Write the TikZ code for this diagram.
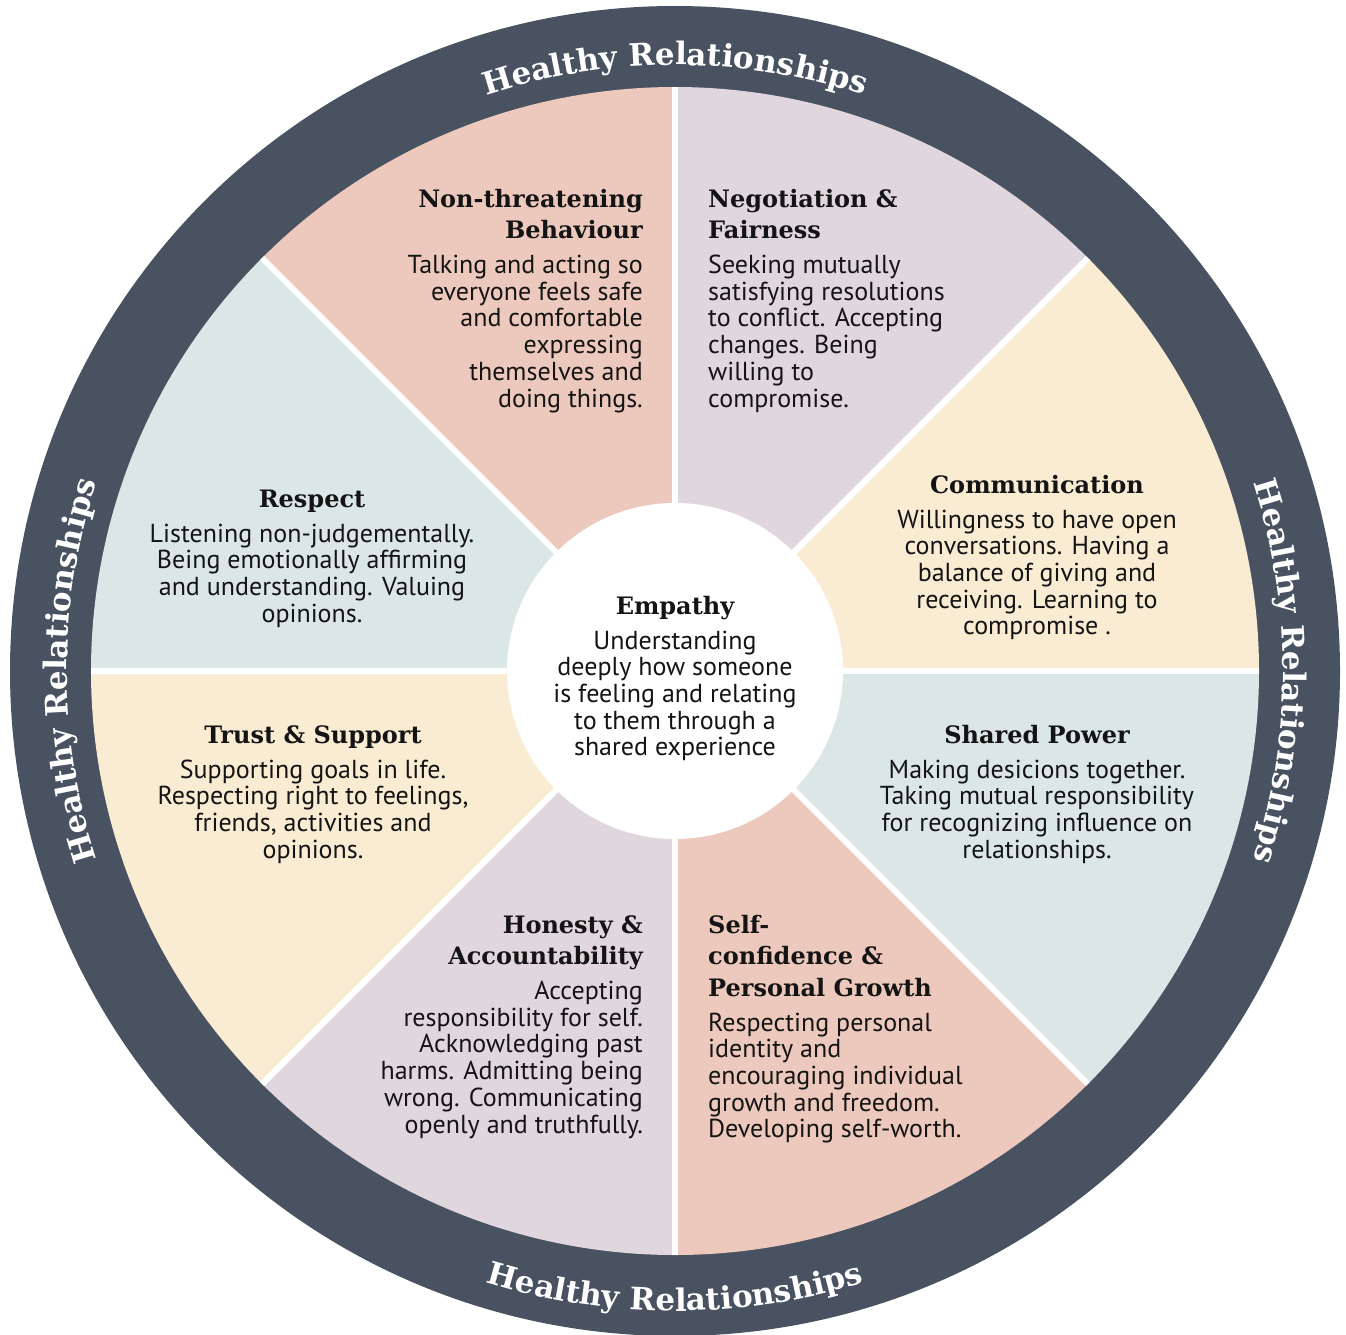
\documentclass[tikz,border=0pt]{standalone}
\usepackage{fontspec}
\usetikzlibrary{decorations.text}
\newfontfamily\ttlfam{DejaVu Serif}
\newfontfamily\bdyfam{PT Sans}
\definecolor{ringc}{HTML}{495261}
\definecolor{pinkc}{HTML}{ECC9BC}
\definecolor{lavc}{HTML}{E0D6DE}
\definecolor{creamc}{HTML}{FAEBD3}
\definecolor{bluec}{HTML}{DAE7E6}
\definecolor{inkc}{HTML}{141414}
\newcommand\ttlfont{\ttlfam\bfseries\fontsize{24}{31.5}\selectfont}
\newcommand\bdyfont{\bdyfam\fontsize{26}{26.7}\selectfont}
\newcommand\ringfont{\ttlfam\bfseries\fontsize{31}{31}\selectfont}
\newcommand\htl[1]{{\ttlfont\vrule width0pt height22pt depth9.5pt #1}}
\newcommand\hbd[1]{{\bdyfont\vrule width0pt height19.7pt depth7pt #1}}
\newcommand\hgap{\noalign{\kern5.8pt}}
\newcommand\blockR[1]{\vtop{\offinterlineskip\let\\\cr\halign{\hfil##\cr#1\crcr}}}
\newcommand\blockL[1]{\vtop{\offinterlineskip\let\\\cr\halign{##\hfil\cr#1\crcr}}}
\newcommand\blockC[1]{\vtop{\offinterlineskip\let\\\cr\halign{\hfil##\hfil\cr#1\crcr}}}
\tikzset{
  txt/.style={inner sep=0pt, text=inkc},
  ringtext/.style={decorate, decoration={text along path, text={|\ringfont|Healthy Relationships}, text align=center, text color=white}},
  sep/.style={white, line width=6pt}
}
\begin{document}
\begin{tikzpicture}[x=1pt,y=1pt]
\useasboundingbox (0,0) rectangle (1346,-1335);
\fill[white] (0,0) rectangle (1346,-1335);
\coordinate (C) at (675,-671);
% outer ring
\fill[ringc] (C) circle[radius=665];
% sectors
\fill[lavc]   (C) -- ++(45:584)  arc[start angle=45,  end angle=90,  radius=584] -- cycle;
\fill[pinkc]  (C) -- ++(90:584)  arc[start angle=90,  end angle=135, radius=584] -- cycle;
\fill[bluec]  (C) -- ++(135:584) arc[start angle=135, end angle=180, radius=584] -- cycle;
\fill[creamc] (C) -- ++(180:584) arc[start angle=180, end angle=225, radius=584] -- cycle;
\fill[lavc]   (C) -- ++(225:584) arc[start angle=225, end angle=270, radius=584] -- cycle;
\fill[pinkc]  (C) -- ++(270:584) arc[start angle=270, end angle=315, radius=584] -- cycle;
\fill[bluec]  (C) -- ++(315:584) arc[start angle=315, end angle=360, radius=584] -- cycle;
\fill[creamc] (C) -- ++(0:584)   arc[start angle=0,   end angle=45,  radius=584] -- cycle;
\foreach \a in {0,45,...,315} \draw[sep] (C) -- ++(\a:584);
\fill[white] (C) circle[radius=168];
% ring texts
\path[ringtext] ([shift={(115:606)}]C) arc[start angle=115, end angle=65, radius=606];
\path[ringtext] ([shift={(25:608)}]C) arc[start angle=25, end angle=-25, radius=608];
\path[ringtext] ([shift={(245:640)}]C) arc[start angle=245, end angle=295, radius=640];
\path[ringtext] ([shift={(205:608)}]C) arc[start angle=205, end angle=155, radius=608];
% blocks
\node[txt, anchor=base east] (nonthreat) at (643,-207) {\blockR{\htl{Non-threatening}\\\htl{Behaviour}\\\hgap
\hbd{Talking and acting so}\\\hbd{everyone feels safe}\\\hbd{and comfortable}\\\hbd{expressing}\\\hbd{themselves and}\\\hbd{doing things.}}};
\node[txt, anchor=base west] (negot) at (708,-207) {\blockL{\htl{Negotiation \&}\\\htl{Fairness}\\\hgap
\hbd{Seeking mutually}\\\hbd{satisfying resolutions}\\\hbd{to conflict. Accepting}\\\hbd{changes. Being}\\\hbd{willing to}\\\hbd{compromise.}}};
\node[txt, anchor=base] (commun) at (1037,-493) {\blockC{\htl{Communication}\\\hgap
\hbd{Willingness to have open}\\\hbd{conversations. Having a}\\\hbd{balance of giving and}\\\hbd{receiving. Learning to}\\\hbd{compromise .}}};
\node[txt, anchor=base] (shared) at (1037,-743) {\blockC{\htl{Shared Power}\\\hgap
\hbd{Making desicions together.}\\\hbd{Taking mutual responsibility}\\\hbd{for recognizing influence on}\\\hbd{relationships.}}};
\node[txt, anchor=base west] (selfconf) at (708,-933) {\blockL{\htl{Self-}\\\htl{confidence \&}\\\htl{Personal Growth}\\\hgap
\hbd{Respecting personal}\\\hbd{identity and}\\\hbd{encouraging individual}\\\hbd{growth and freedom.}\\\hbd{Developing self-worth.}}};
\node[txt, anchor=base east] (honesty) at (643,-933) {\blockR{\htl{Honesty \&}\\\htl{Accountability}\\\hgap
\hbd{Accepting}\\\hbd{responsibility for self.}\\\hbd{Acknowledging past}\\\hbd{harms. Admitting being}\\\hbd{wrong. Communicating}\\\hbd{openly and truthfully.}}};
\node[txt, anchor=base] (trust) at (313,-743) {\blockC{\htl{Trust \& Support}\\\hgap
\hbd{Supporting goals in life.}\\\hbd{Respecting right to feelings,}\\\hbd{friends, activities and}\\\hbd{opinions.}}};
\node[txt, anchor=base] (respect) at (312,-507) {\blockC{\htl{Respect}\\\hgap
\hbd{Listening non-judgementally.}\\\hbd{Being emotionally affirming}\\\hbd{and understanding. Valuing}\\\hbd{opinions.}}};
\node[txt, anchor=base] (empathy) at (675,-614) {\blockC{\htl{Empathy}\\\hgap
\hbd{Understanding}\\\hbd{deeply how someone}\\\hbd{is feeling and relating}\\\hbd{to them through a}\\\hbd{shared experience}}};
\end{tikzpicture}
\end{document}
